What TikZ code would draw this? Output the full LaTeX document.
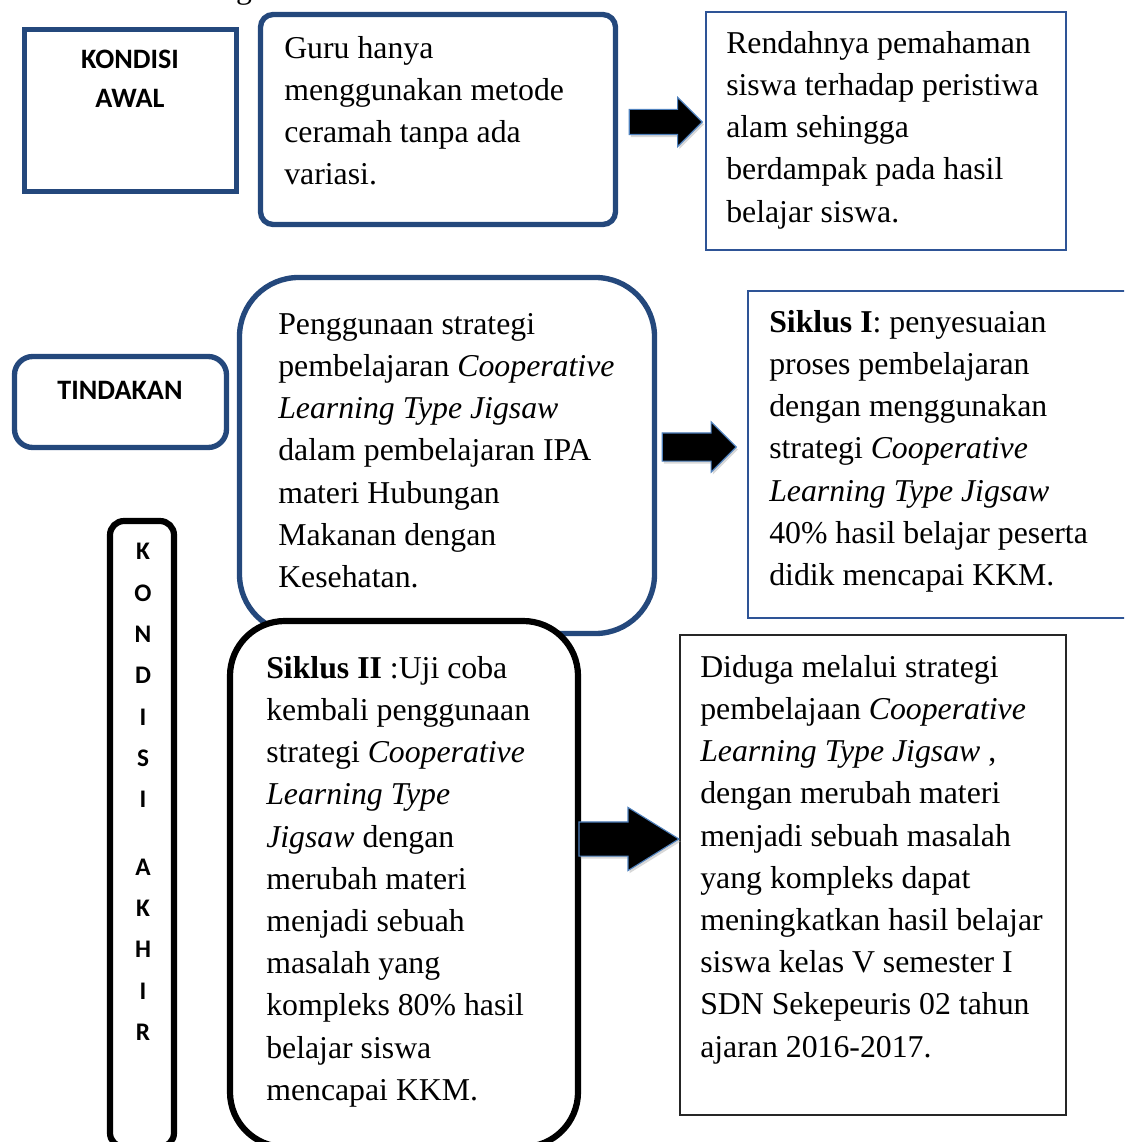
\documentclass[tikz,border=0pt]{standalone}
\usepackage{fontspec}
\setmainfont{Liberation Serif}
\newfontfamily\tagfont{Carlito}
\usetikzlibrary{shapes.arrows,shadows}

\definecolor{boxblue}{RGB}{36,72,124}
\definecolor{lineblue}{RGB}{46,84,150}
\definecolor{edgeblue}{RGB}{79,129,189}
\newdimen\px
\px=0.025cm

\begin{document}
\begin{tikzpicture}[x=0.025cm,y=-0.025cm]

    \tikzset{
      thickbox/.style={draw=boxblue, line width=3.8pt, fill=white, inner sep=0pt},
      thinbox/.style={draw=lineblue, line width=1.1pt, fill=white, inner sep=0pt},
      blackbox/.style={draw=black, line width=4.4pt, fill=white, inner sep=0pt},
      plainbox/.style={draw=black!85, line width=1pt, fill=white, inner sep=0pt},
      body/.style={font=\fontsize{22.6}{30}\selectfont, align=left, inner sep=0pt, anchor=north west},
      tag/.style={font=\tagfont\bfseries\fontsize{20}{27.7}\selectfont, align=center, inner sep=0pt},
      blockarrow/.style={single arrow, draw=edgeblue, line width=0.8pt, fill=black, inner sep=0pt,
        text depth=0pt, anchor=tip, drop shadow={fill=black!30, shadow xshift=1.2pt, shadow yshift=-1.8pt}},
    }
    \useasboundingbox (0,0) rectangle (1124,1142);
    \clip (0,0) rectangle (1124,1142);

	\node[font=\fontsize{22.6}{30}\selectfont, anchor=base, inner sep=0pt] (kop) at (244,-1) {g};

	\node[thickbox, minimum width=212\px, minimum height=162\px] (awal) at (130.5,110.5) {};
	\node[tag] (awaltag) at (130,79) {KONDISI\\AWAL};

	\node[thickbox, rounded corners=9pt, minimum width=355\px, minimum height=210\px] (guru) at (438,119.5) {};
	\node[body] (gurutxt) at (284,36) {Guru hanya\\menggunakan metode\\ceramah tanpa ada\\variasi.};

	\node[thinbox, minimum width=360\px, minimum height=238\px] (rendah) at (886,131) {};
	\node[body] (rendahtxt) at (726,31) {Rendahnya pemahaman\\siswa terhadap peristiwa\\alam sehingga\\berdampak pada hasil\\belajar siswa.};

	\node[thickbox, rounded corners=13pt, minimum width=212\px, minimum height=91\px] (tindak) at (120.5,402) {};
	\node[tag] (tindaktag) at (120,390) {TINDAKAN};

	\node[thickbox, rounded corners=42pt, minimum width=415\px, minimum height=356\px] (pakai) at (447,455.5) {};
	\node[body] (pakaitxt) at (278,313) {Penggunaan strategi\\pembelajaran \textit{Cooperative}\\\textit{Learning Type Jigsaw}\\dalam pembelajaran IPA\\materi Hubungan\\Makanan dengan\\Kesehatan.};

	\node[thinbox, minimum width=392\px, minimum height=327\px] (siklus1) at (944,454.5) {};
	\node[body] (siklus1txt) at (769,310) {\textbf{Siklus I}: penyesuaian\\proses pembelajaran\\dengan menggunakan\\strategi \textit{Cooperative}\\\textit{Learning Type Jigsaw}\\40\% hasil belajar peserta\\didik mencapai KKM.};

	\node[blackbox, rounded corners=10pt, minimum width=64\px, minimum height=626\px] (akhir) at (142,834) {};
	\node[tag, font=\tagfont\bfseries\fontsize{18}{29.4}\selectfont] (akhirtag) at (143,792) {K\\O\\N\\D\\I\\S\\I\\[18.5pt]A\\K\\H\\I\\R};

	\node[blackbox, rounded corners=39pt, minimum width=348\px, minimum height=526\px] (siklus2) at (404,884) {};
	\node[body] (siklus2txt) at (266,656) {\textbf{Siklus II} :Uji coba\\kembali penggunaan\\strategi \textit{Cooperative}\\\textit{Learning Type}\\\textit{Jigsaw} dengan\\merubah materi\\menjadi sebuah\\masalah yang\\kompleks 80\% hasil\\belajar siswa\\mencapai KKM.};

	\node[plainbox, minimum width=386\px, minimum height=480\px] (duga) at (873,875) {};
	\node[body] (dugatxt) at (700,655) {Diduga melalui strategi\\pembelajaan \textit{Cooperative}\\\textit{Learning Type Jigsaw} ,\\dengan merubah materi\\menjadi sebuah masalah\\yang kompleks dapat\\meningkatkan hasil belajar\\siswa kelas V semester I\\SDN Sekepeuris 02 tahun\\ajaran 2016-2017.};

	\node[blockarrow, minimum height=73\px, text height=24\px, single arrow head extend=12\px] (panah1) at (703,122) {};
	\node[blockarrow, minimum height=74\px, text height=27\px, single arrow head extend=11\px] (panah2) at (737,447) {};
	\node[blockarrow, minimum height=100\px, text height=33\px, single arrow head extend=14.5\px, single arrow tip angle=63.6] (panah3) at (680,839) {};

\end{tikzpicture}
\end{document}
